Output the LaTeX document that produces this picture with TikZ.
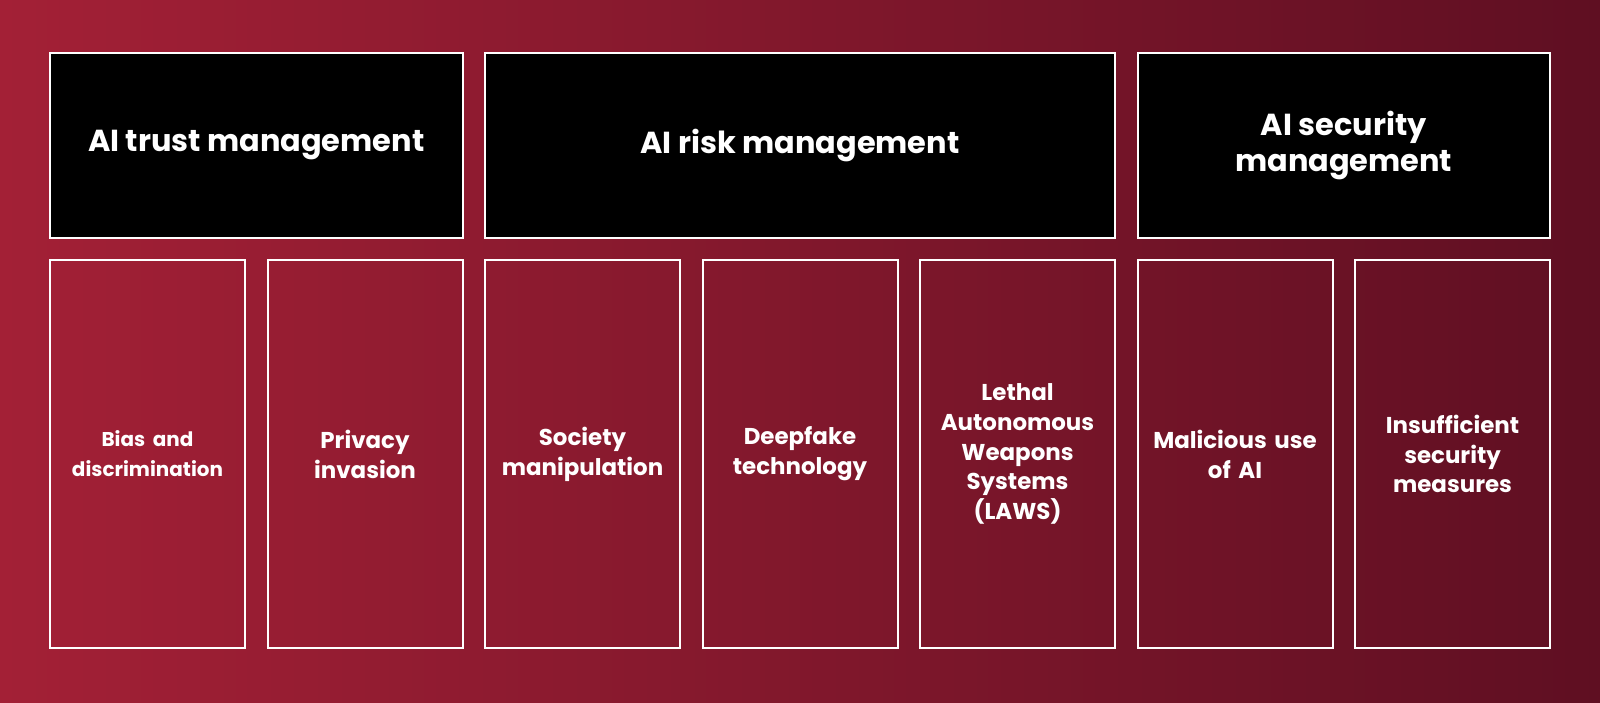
\documentclass[tikz,border=0pt]{standalone}
\usepackage{fontspec}
\setmainfont{Poppins}
\usetikzlibrary{positioning}
\definecolor{bgleft}{HTML}{A32036}
\definecolor{bgright}{HTML}{5F0F22}

\begin{document}
\begin{tikzpicture}[x=1bp, y=1bp, node distance=22.5bp,
    head/.style={rectangle, draw=white, line width=2bp, fill=black, text=white, minimum height=185bp, inner sep=0pt, outer sep=0pt, align=center, font=\fontsize{30.5}{37}\selectfont\bfseries},
    item/.style={rectangle, draw=white, line width=2bp, text=white, minimum width=195bp, minimum height=388bp, inner sep=0pt, outer sep=0pt, text width=180bp, align=center, font=\fontsize{23}{30}\selectfont\bfseries}]
    \shade [left color=bgleft, right color=bgright] (0,0) rectangle (1600,703);
    \useasboundingbox (0,0) rectangle (1600,703);
    % lower row
    \node [item, anchor=south west] (bias) at (50,55) {\fontsize{20}{28}\selectfont Bias and\\discrimination};
    \node [item, right=of bias] (privacy) {Privacy\\invasion};
    \node [item, right=of privacy] (society) {Society\\manipulation};
    \node [item, right=of society] (deepfake) {Deepfake\\technology};
    \node [item, right=of deepfake] (laws) {Lethal\\Autonomous\\Weapons\\Systems\\(LAWS)};
    \node [item, right=of laws] (malicious) {Malicious use\\of AI};
    \node [item, right=of malicious] (insufficient) {Insufficient\\security\\measures};
    % upper row
    \node [head, minimum width=412.5bp, anchor=south west] (trust) at ([yshift=22bp]bias.north west) {AI trust management};
    \node [head, minimum width=630bp, anchor=south west] (risk) at ([yshift=22bp]society.north west) {AI risk management};
    \node [head, minimum width=412.5bp, anchor=south west] (security) at ([yshift=22bp]malicious.north west) {AI security\\management};
\end{tikzpicture}
\end{document}
